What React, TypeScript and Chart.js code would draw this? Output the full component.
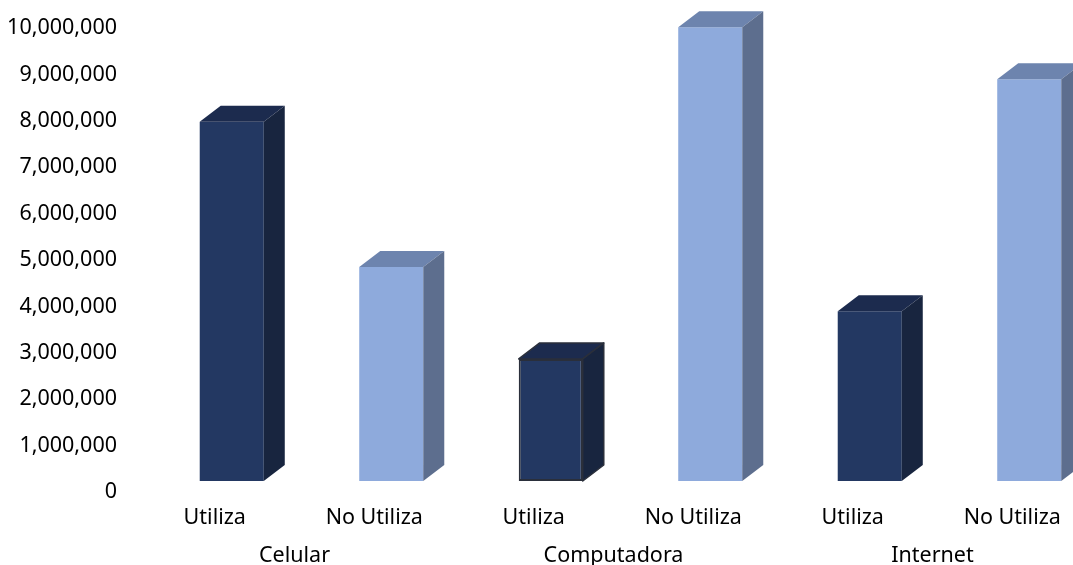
import React, { useEffect, useRef } from "react";
import { Chart, registerables } from "chart.js";

Chart.register(...registerables);

// ---- data ----
const categories = ["Utiliza", "No Utiliza", "Utiliza", "No Utiliza", "Utiliza", "No Utiliza"];
const groups = ["Celular", "Computadora", "Internet"];
const values = [7740000, 4610000, 2630000, 9780000, 3660000, 8660000];
const yMin = 0;
const yMax = 10000000;
const yStep = 1000000;

// ---- styles ----
const FONT = "'Noto Sans', 'Open Sans', sans-serif";
const frontColors = ["#233862", "#8eaadc"];
const topColors = ["#1c2b4e", "#6d84ae"];
const sideColors = ["#18253f", "#5d6e8e"];
const outlined = [false, false, true, false, false, false];
const OUTLINE = "#2a2f3b";
const DX = 21;
const DY = -16;

const depth3d = {
  id: "depth3d",
  afterDatasetsDraw(chart: any) {
    const ctx = chart.ctx;
    const meta = chart.getDatasetMeta(0);
    meta.data.forEach((bar: any, i: number) => {
      const { x, y, base, width } = bar.getProps(["x", "y", "base", "width"], true);
      const l = x - width / 2;
      const r = x + width / 2;
      const k = i % 2;
      ctx.save();
      ctx.lineWidth = 1.5;
      ctx.strokeStyle = OUTLINE;
      ctx.lineJoin = "round";
      ctx.beginPath();
      ctx.moveTo(l, y);
      ctx.lineTo(l + DX, y + DY);
      ctx.lineTo(r + DX, y + DY);
      ctx.lineTo(r, y);
      ctx.closePath();
      ctx.fillStyle = topColors[k];
      ctx.fill();
      if (outlined[i]) ctx.stroke();
      ctx.beginPath();
      ctx.moveTo(r, y);
      ctx.lineTo(r + DX, y + DY);
      ctx.lineTo(r + DX, base + DY);
      ctx.lineTo(r, base);
      ctx.closePath();
      ctx.fillStyle = sideColors[k];
      ctx.fill();
      if (outlined[i]) ctx.stroke();
      ctx.restore();
    });
  },
};

const noPadX = (h: number) => (s: any) => {
  s.height = h;
  s.paddingLeft = 0;
  s.paddingRight = 0;
};

export default function App() {
  const ref = useRef<HTMLCanvasElement | null>(null);

  useEffect(() => {
    if (!ref.current) return;
    const chart = new Chart(ref.current, {
      type: "bar",
      data: {
        labels: categories,
        datasets: [
          {
            data: values,
            backgroundColor: values.map((_, i) => frontColors[i % 2]),
            borderWidth: values.map((_, i) => (outlined[i] ? 2 : 0)),
            borderColor: OUTLINE,
            borderSkipped: false,
            barPercentage: 0.4015,
            categoryPercentage: 1,
          },
        ],
      },
      options: {
        responsive: false,
        animation: false,
        layout: { padding: { top: 17, left: 0, right: 0, bottom: 0 } },
        plugins: { legend: { display: false }, tooltip: { enabled: false } },
        scales: {
          x: {
            type: "category",
            position: "bottom",
            weight: 0,
            offset: true,
            grid: { display: false, drawTicks: false },
            border: { display: false },
            ticks: {
              color: "#000",
              font: { family: FONT, size: 21.5 },
              padding: 24,
              labelOffset: -17,
              maxRotation: 0,
              autoSkip: false,
            },
            afterFit: noPadX(52),
          },
          x2: {
            type: "category",
            position: "bottom",
            weight: 1,
            offset: true,
            labels: groups,
            grid: { display: false, drawTicks: false },
            border: { display: false },
            ticks: {
              color: "#000",
              font: { family: FONT, size: 21.5 },
              padding: 10,
              labelOffset: -17,
              maxRotation: 0,
              autoSkip: false,
            },
            afterFit: noPadX(32),
          },
          y: {
            min: yMin,
            max: yMax,
            grid: { display: false, drawTicks: false },
            border: { display: false },
            ticks: {
              stepSize: yStep,
              color: "#000",
              font: { family: FONT, size: 21.5 },
              padding: 35,
              labelOffset: 11,
              callback: (v: any) => Number(v).toLocaleString("en-US"),
            },
            afterFit: (s: any) => {
              s.width = 152;
              s.paddingTop = 0;
              s.paddingBottom = 0;
            },
          },
        },
      },
      plugins: [depth3d],
    });
    return () => chart.destroy();
  }, []);

  return (
    <div
      style={{
        position: "fixed",
        left: 0,
        top: 0,
        width: 1073,
        height: 565,
        overflow: "hidden",
        background: "#fff",
      }}
    >
      <canvas ref={ref} width={1109} height={565} style={{ display: "block" }} />
    </div>
  );
}
